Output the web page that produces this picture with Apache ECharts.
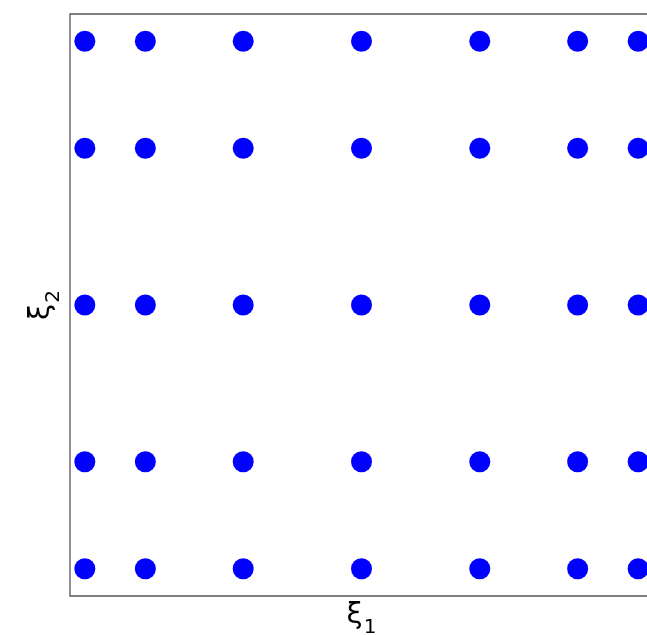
<!DOCTYPE html>
<html>
<head>
<meta charset="utf-8">
<script src="https://cdn.jsdelivr.net/npm/echarts@6/dist/echarts.min.js"></script>
<style>
  html, body { margin: 0; padding: 0; background: #fff; }
  #chart { width: 647px; height: 635px; }
</style>
</head>
<body>
<div id="chart"></div>
<script>
// Gauss-Legendre quadrature nodes on [-1, 1]
const xi1Nodes = [-0.9491, -0.7415, -0.4058, 0, 0.4058, 0.7415, 0.9491];
const xi2Nodes = [-0.9062, -0.5385, 0, 0.5385, 0.9062];

// Tensor-product grid of the two node sets
const gridPoints = [];
xi2Nodes.forEach(function (y) {
  xi1Nodes.forEach(function (x) {
    gridPoints.push([x, y]);
  });
});

const chart = echarts.init(document.getElementById('chart'), null, { renderer: 'canvas' });

const nameRich = {
  g: { fontSize: 29, fontFamily: 'DejaVu Sans', color: '#000' },
  s: { fontSize: 20, fontFamily: 'DejaVu Sans', color: '#000', verticalAlign: 'bottom', padding: [0, 0, -8, 1] }
};

chart.setOption({
  animation: false,
  backgroundColor: '#fff',
  grid: {
    left: 70,
    top: 14,
    width: 583,
    height: 582,
    outerBoundsMode: 'none',
    containLabel: false,
    show: true,
    borderColor: '#555',
    borderWidth: 1.3,
    backgroundColor: 'transparent'
  },
  xAxis: {
    type: 'value',
    min: -1,
    max: 1,
    name: '{g|ξ}{s|1}',
    nameLocation: 'middle',
    nameGap: 5,
    nameTextStyle: { rich: nameRich },
    axisLine: { show: false },
    axisTick: { show: false },
    axisLabel: { show: false },
    splitLine: { show: false }
  },
  yAxis: {
    type: 'value',
    min: -1,
    max: 1,
    name: '{g|ξ}{s|2}',
    nameLocation: 'middle',
    nameGap: 14,
    nameRotate: 90,
    nameTextStyle: { rich: nameRich },
    axisLine: { show: false },
    axisTick: { show: false },
    axisLabel: { show: false },
    splitLine: { show: false }
  },
  series: [{
    type: 'scatter',
    data: gridPoints,
    symbol: 'circle',
    symbolSize: 21,
    itemStyle: { color: '#0000ff', opacity: 1 }
  }]
});
</script>
</body>
</html>
